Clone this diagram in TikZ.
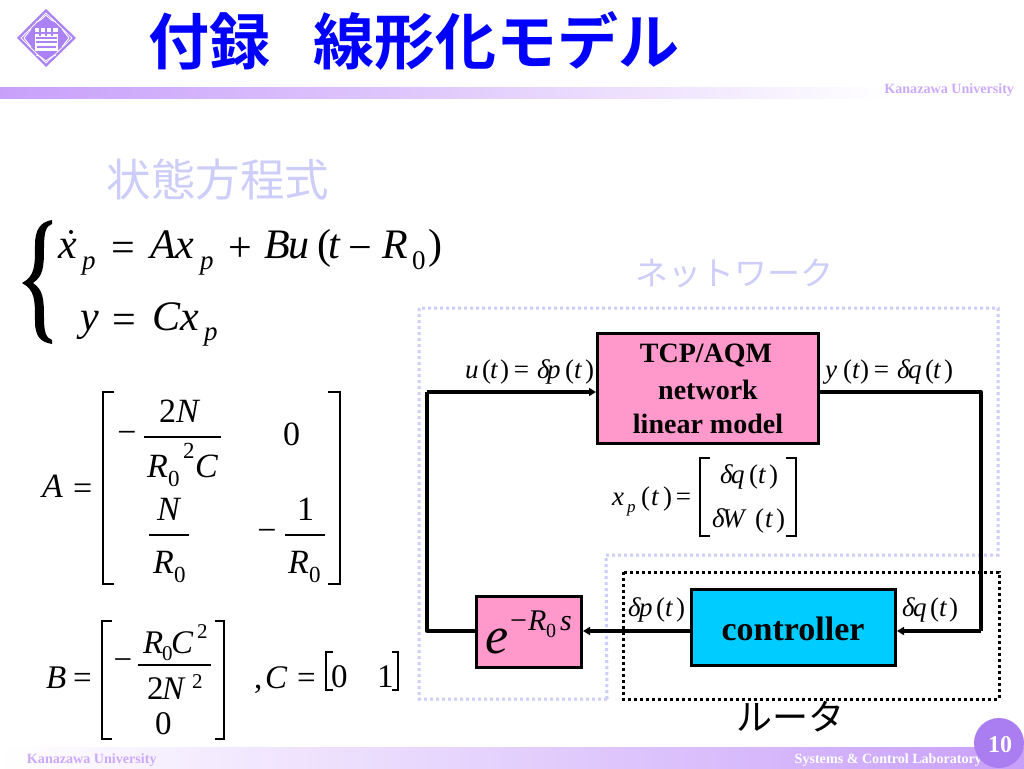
\documentclass[tikz,border=0pt]{standalone}
\usepackage{fontspec}
\setmainfont{Liberation Serif}
\newfontfamily\cjkb{Noto Sans CJK JP Bold}
\newfontfamily\cjkr{Noto Sans CJK JP}
\usetikzlibrary{arrows.meta}
\definecolor{barpurple}{RGB}{200,160,250}
\definecolor{lightpurple}{RGB}{205,205,250}
\definecolor{kana}{RGB}{204,170,250}
\definecolor{logop}{RGB}{170,130,245}
\definecolor{pinkbox}{RGB}{255,153,204}
\definecolor{cyanbox}{RGB}{0,204,255}
\definecolor{numcircle}{RGB}{170,125,240}
\newcommand{\fs}[1]{\fontsize{#1}{#1}\selectfont}
% place text at an offset from the node's origin (dy positive = down)
\newcommand{\at}[3]{\rlap{\kern#1pt\raisebox{-#2pt}{#3}}}
\newcommand{\up}[1]{{\upshape #1}}
\newcommand{\sm}[2]{{\fs{#1}#2}}
\tikzset{
  x=1pt,y=-1pt,
  eq/.style={inner sep=0pt,outer sep=0pt,text=black},
  eqbase/.style={eq,anchor=base west},
  eqa/.style={eqbase,font=\fs{42}\itshape},
  eqm/.style={eqbase,font=\fs{34}\itshape},
  eqb/.style={eqbase,font=\fs{33}\itshape},
  eql/.style={eqbase,font=\fs{27}\itshape},
  headline/.style={eq,font=\cjkb\fs{61},text=blue},
  ghost/.style={eq,font=\cjkr,text=lightpurple},
  footer/.style={eq,font=\bfseries\fs{14.1},text=kana},
  brk/.style={draw=black,line width=1.2pt},
  frac/.style={draw=black,line width=1.2pt},
  blockp/.style={draw=black,line width=3pt,fill=pinkbox,inner sep=0pt},
  blockc/.style={draw=black,line width=3pt,fill=cyanbox,inner sep=0pt},
  wire/.style={draw=black,line width=3.3pt,line join=round},
  wirea/.style={wire,-{Triangle[length=7pt,width=8pt]}},
  lightdot/.style={draw=lightpurple,line width=3pt,dash pattern=on 3pt off 3pt},
  routerdot/.style={draw=black,line width=3pt,dash pattern=on 3pt off 3pt},
}
\begin{document}
\begin{tikzpicture}
\useasboundingbox (0,0) rectangle (1024,768);
\fill[white] (0,0) rectangle (1024,768);
% bars
\fill[left color=barpurple,right color=white,middle color=barpurple!55] (0,87) rectangle (890,98);
\fill[left color=white,right color=barpurple] (0,747) rectangle (1024,768);
% logo
\fill[logop] (46,9) -- (76,38) -- (46,67) -- (17,38) -- cycle;
\draw[white,line width=.8pt] (46,13) -- (72,38) -- (46,63) -- (21,38) -- cycle;
\fill[white] (35,26) rectangle (58,51);
\draw[logop,line width=1.2pt] (35,27) -- (58,27) (35,33) -- (58,33) (36,38) -- (57,38) (36,42) -- (57,42) (37,47) -- (56,47) (40,27) -- (40,36) (46,27) -- (46,36) (52,27) -- (52,36);
\draw[white,line width=.9pt] (46,15) .. controls (42,19) and (40,21) .. (36,22) (46,15) .. controls (50,19) and (52,21) .. (56,22)
 (46,61) .. controls (42,58) and (40,56) .. (36,55) (46,61) .. controls (50,58) and (52,56) .. (56,55)
 (24,38) .. controls (27,34) and (29,32) .. (31,29) (24,38) .. controls (27,42) and (29,44) .. (31,47)
 (69,38) .. controls (66,34) and (64,32) .. (62,29) (69,38) .. controls (66,42) and (64,44) .. (62,47);
% title
\node[headline] (t1) at (209,41) {付録};
\node[headline] (t2) at (496,41) {線形化モデル};
\node[footer,anchor=east] (f1) at (1014,90) {Kanazawa University};
\node[footer,anchor=west] (f2) at (27,760) {Kanazawa University};
\node[footer,anchor=east,text=white] (f3) at (982,760) {Systems \& Control Laboratory};
\node[circle,fill=numcircle,minimum size=50pt,inner sep=0pt] (pg) at (999,743) {};
\node[eq,font=\bfseries\fs{24},text=white] (pgt) at (1000,745) {10};
% headings
\node[ghost,font=\cjkr\fs{44.5}] (h1) at (218,180) {状態方程式};
\node[ghost,font=\cjkr\fs{33}] (h2) at (734,273) {ネットワーク};
\node[eq,font=\cjkr\fs{36}] (h3) at (790,717) {ルータ};
% brace
\fill[black] (52,220) .. controls (40,222) and (35,230) .. (35,245) .. controls (35,266) and (35,276) .. (22,283)
  .. controls (35,290) and (35,300) .. (35,321) .. controls (35,336) and (40,342) .. (52,344)
  -- (52,340) .. controls (46,338) and (44,332) .. (44,318) .. controls (44,298) and (43,290) .. (33,283)
  .. controls (43,276) and (44,268) .. (44,248) .. controls (44,232) and (46,226) .. (52,224) -- cycle;
% state equations
\fill (71,232) circle (2pt);
\node[eqa] (e1) at (58,258) {\at{0}{0}{x}\at{24}{11}{\sm{27}{p}}\at{53}{3}{\up{=}}\at{92}{0}{A}\at{118}{0}{x}\at{142}{11}{\sm{27}{p}}\at{170}{3}{\up{+}}\at{206}{0}{B}\at{230}{0}{u}\at{259}{0}{\up{(}}\at{270}{0}{t}\at{290}{3}{\up{−}}\at{324}{0}{R}\at{354}{11}{\sm{27}{\up{0}}}\at{370}{0}{\up{)}}\kern 384pt};
\node[eqa] (e2) at (80,330) {\at{0}{0}{y}\at{32}{3}{\up{=}}\at{72}{0}{C}\at{100}{0}{x}\at{124}{10}{\sm{27}{p}}\kern 138pt};
% matrix A
\node[eqm] (a0) at (42,497) {\at{0}{0}{A}\at{31}{2}{\up{=}}\kern 50pt};
\draw[brk] (114,392) -- (103,392) -- (103,584) -- (114,584);
\draw[brk] (328,392) -- (340,392) -- (340,584) -- (328,584);
\node[eq,font=\fs{34}] (a1) at (127,437) {−};
\node[eqm] (a2) at (159,422) {\up{2}N};
\draw[frac] (144,437) -- (221,437);
\node[eqm] (a3) at (147,477) {\at{0}{0}{R}\at{21}{9}{\sm{23}{\up{0}}}\at{36}{-19}{\sm{23}{\up{2}}}\at{48}{0}{C}\kern 70pt};
\node[eqm] (a4) at (283,445) {\up{0}};
\node[eqm] (a5) at (157,520) {N};
\draw[frac] (149,535) -- (189,535);
\node[eqm] (a6) at (153,573) {\at{0}{0}{R}\at{21}{9}{\sm{23}{\up{0}}}\kern 32pt};
\node[eq,font=\fs{34}] (a7) at (267,535) {−};
\node[eqm] (a8) at (297,520) {\up{1}};
\draw[frac] (285,535) -- (325,535);
\node[eqm] (a9) at (288,573) {\at{0}{0}{R}\at{21}{9}{\sm{23}{\up{0}}}\kern 32pt};
% matrix B
\node[eqb] (b0) at (46,688) {\at{0}{0}{B}\at{27}{0}{\up{=}}\kern 46pt};
\draw[brk] (112,621) -- (102,621) -- (102,739) -- (112,739);
\draw[brk] (215,621) -- (224,621) -- (224,739) -- (215,739);
\node[eq,font=\fs{33}] (b1) at (123,665) {−};
\node[eqb] (b2) at (143,653) {\at{0}{0}{R}\at{19}{7}{\sm{21}{\up{0}}}\at{28}{0}{C}\at{54}{-15}{\sm{21}{\up{2}}}\kern 64pt};
\draw[frac] (138,665) -- (211,665);
\node[eqb] (b3) at (147,699) {\at{0}{0}{\up{2}}\at{15}{0}{N}\at{45}{-11}{\sm{21}{\up{2}}}\kern 55pt};
\node[eqb] (b4) at (155,734) {\up{0}};
\node[eqb] (c0) at (254,688) {\at{0}{0}{\up{,}}\at{11}{0}{C}\at{43}{0}{\up{=}}\kern 62pt};
\draw[brk,line width=1.8pt] (333,652) -- (326,652) -- (326,690) -- (333,690);
\draw[brk,line width=1.8pt] (392,652) -- (398,652) -- (398,690) -- (392,690);
\node[eqb] (c1) at (331,687) {\up{0}};
\node[eqb] (c2) at (377,687) {\up{1}};
% dotted regions
\draw[lightdot] (607,699) -- (419,699) -- (419,308) -- (998,308) -- (998,555) -- (606,555) -- cycle;
\draw[routerdot] (623,572) rectangle (999,699);
% blocks
\node[blockp,minimum width=221pt,minimum height=110pt] (tcp) at (708,388) {};
\node[eq,font=\bfseries\fs{28}] (l1) at (706,355) {TCP/AQM};
\node[eq,font=\bfseries\fs{28}] (l2) at (708,390) {network};
\node[eq,font=\bfseries\fs{28}] (l3) at (708,424) {linear model};
\node[blockc,minimum width=204pt,minimum height=76pt] (ctl) at (793.5,627) {};
\node[eq,font=\bfseries\fs{34}] (ctlt) at (793,629) {controller};
\node[blockp,minimum width=105pt,minimum height=71pt] (del) at (529,631.5) {};
\node[eqbase,font=\fs{52}\itshape] (dele) at (485,653) {e};
\node[eqbase,font=\fs{30}\itshape] (dels) at (510,630) {\at{0}{0}{\up{−}}\at{18}{0}{R}\at{36}{7}{\sm{20}{\up{0}}}\at{50}{0}{s}\kern 62pt};
% signals
\coordinate (cr) at (981,392);
\coordinate (crb) at (981,631);
\coordinate (cl) at (427,392);
\coordinate (clb) at (427,631);
\draw[wire] (tcp.east |- cr) -- (cr) -- (crb);
\draw[wirea] (crb) -- (ctl.east |- crb);
\draw[wirea] (ctl.west |- crb) -- (del.east |- crb);
\draw[wire] (del.west |- clb) -- (clb) -- (cl);
\draw[wirea] (cl) -- (tcp.west |- cl);
% labels
\node[eql] (u) at (465,378) {\at{0}{0}{u}\at{17}{0}{\up{(}}\at{25}{0}{t}\at{35}{0}{\up{)}}\at{49}{0}{\up{=}}\at{72}{0}{δ}\at{82}{0}{p}\at{100}{0}{\up{(}}\at{109}{0}{t}\at{120}{0}{\up{)}}\kern 129pt};
\node[eql] (y) at (825,378) {\at{0}{0}{y}\at{18}{0}{\up{(}}\at{27}{0}{t}\at{35}{0}{\up{)}}\at{49}{0}{\up{=}}\at{72}{0}{δ}\at{83}{0}{q}\at{100}{0}{\up{(}}\at{108}{0}{t}\at{119}{0}{\up{)}}\kern 128pt};
\node[eql] (dp) at (628,616) {\at{0}{0}{δ}\at{11}{0}{p}\at{28}{0}{\up{(}}\at{37}{0}{t}\at{48}{0}{\up{)}}\kern 57pt};
\node[eql] (dq) at (902,616) {\at{0}{0}{δ}\at{11}{0}{q}\at{28}{0}{\up{(}}\at{37}{0}{t}\at{47}{0}{\up{)}}\kern 56pt};
\node[eql] (xp) at (612,505) {\at{0}{0}{x}\at{15}{7}{\sm{17}{p}}\at{29}{0}{\up{(}}\at{39}{0}{t}\at{51}{0}{\up{)}}\at{64}{0}{\up{=}}\kern 80pt};
\draw[brk] (710,458) -- (700,458) -- (700,536) -- (710,536);
\draw[brk] (786,458) -- (796,458) -- (796,536) -- (786,536);
\node[eql] (xa) at (720,483) {\at{0}{0}{δ}\at{11}{0}{q}\at{29}{0}{\up{(}}\at{38}{0}{t}\at{49}{0}{\up{)}}\kern 58pt};
\node[eql] (xb) at (712,527) {\at{0}{0}{δ}\at{10}{0}{W}\at{43}{0}{\up{(}}\at{53}{0}{t}\at{64}{0}{\up{)}}\kern 73pt};
\end{tikzpicture}
\end{document}
